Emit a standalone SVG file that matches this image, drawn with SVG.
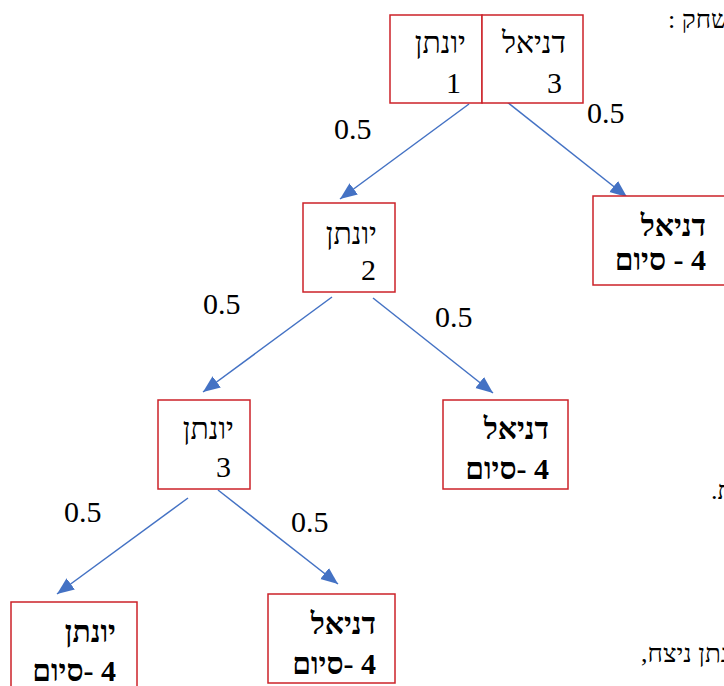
<svg xmlns="http://www.w3.org/2000/svg" width="724" height="686" viewBox="0 0 724 686">
  <style>
    .box { fill: #ffffff; stroke: #cc2229; stroke-width: 1.5; }
    .edge { fill: none; stroke: #4472c4; stroke-width: 1.5; }
    .t { font-family: "Liberation Serif", "DejaVu Serif", "Times New Roman", serif; font-size: 30px; fill: #000000; text-anchor: end; }
    .b { font-weight: bold; }
    .p { font-family: "Liberation Serif", "Times New Roman", serif; font-size: 30px; fill: #000000; }
    .bg { font-family: "Liberation Serif", "DejaVu Serif", "Times New Roman", serif; font-size: 26px; fill: #000000; }
  </style>
  <defs>
    <marker id="arrow" markerUnits="userSpaceOnUse" markerWidth="20" markerHeight="16" refX="17" refY="7" orient="auto">
      <path d="M0,0 L17,7 L0,14 Z" fill="#4472c4"/>
    </marker>
  </defs>

  <!-- surrounding page text, cut at the right edge -->
  <text class="bg" x="668" y="28">: משחק</text>
  <text class="bg" x="711" y="499">.ת</text>
  <text class="bg" x="641" y="662">,יונתן ניצח</text>

  <!-- connectors -->
  <g id="connectors">
    <line class="edge" x1="469" y1="104" x2="340" y2="199" marker-end="url(#arrow)"/>
    <line class="edge" x1="507" y1="102" x2="627" y2="197" marker-end="url(#arrow)"/>
    <line class="edge" x1="332" y1="297" x2="203" y2="392" marker-end="url(#arrow)"/>
    <line class="edge" x1="373" y1="298" x2="493" y2="393" marker-end="url(#arrow)"/>
    <line class="edge" x1="188" y1="498" x2="57" y2="594" marker-end="url(#arrow)"/>
    <line class="edge" x1="218" y1="490" x2="338" y2="584" marker-end="url(#arrow)"/>
  </g>

  <!-- probability labels -->
  <g id="labels">
    <text class="p" x="334" y="139">0.5</text>
    <text class="p" x="587" y="123">0.5</text>
    <text class="p" x="203" y="314">0.5</text>
    <text class="p" x="435" y="327">0.5</text>
    <text class="p" x="64" y="522">0.5</text>
    <text class="p" x="291" y="532">0.5</text>
  </g>

  <!-- start: score table -->
  <g id="start">
    <rect class="box" x="390" y="15" width="92" height="88"/>
    <rect class="box" x="482" y="15" width="101" height="88"/>
    <text class="t" x="466" y="53">יונתן</text>
    <text class="t" x="461" y="93">1</text>
    <text class="t" x="566" y="53">דניאל</text>
    <text class="t" x="562" y="93">3</text>
  </g>

  <g id="yonatan2">
    <rect class="box" x="303" y="203" width="92" height="89"/>
    <text class="t" x="377" y="244">יונתן</text>
    <text class="t" x="376" y="280">2</text>
  </g>

  <g id="daniel-end-1">
    <rect class="box" x="593" y="196" width="140" height="89"/>
    <text class="t b" x="706" y="236">דניאל</text>
    <text class="t b" x="706" y="270">&#x200F;4 - סיום</text>
  </g>

  <g id="yonatan3">
    <rect class="box" x="158" y="400" width="92" height="89"/>
    <text class="t" x="234" y="439">יונתן</text>
    <text class="t" x="231" y="477">3</text>
  </g>

  <g id="daniel-end-2">
    <rect class="box" x="443" y="400" width="125" height="89"/>
    <text class="t b" x="549" y="439">דניאל</text>
    <text class="t b" x="549" y="479">&#x200F;4 -סיום</text>
  </g>

  <g id="yonatan-end">
    <rect class="box" x="11" y="602" width="126" height="100"/>
    <text class="t b" x="116" y="642">יונתן</text>
    <text class="t b" x="116" y="681">&#x200F;4 -סיום</text>
  </g>

  <g id="daniel-end-3">
    <rect class="box" x="268" y="594" width="127" height="89"/>
    <text class="t b" x="376" y="634">דניאל</text>
    <text class="t b" x="376" y="674">&#x200F;4 -סיום</text>
  </g>
</svg>
